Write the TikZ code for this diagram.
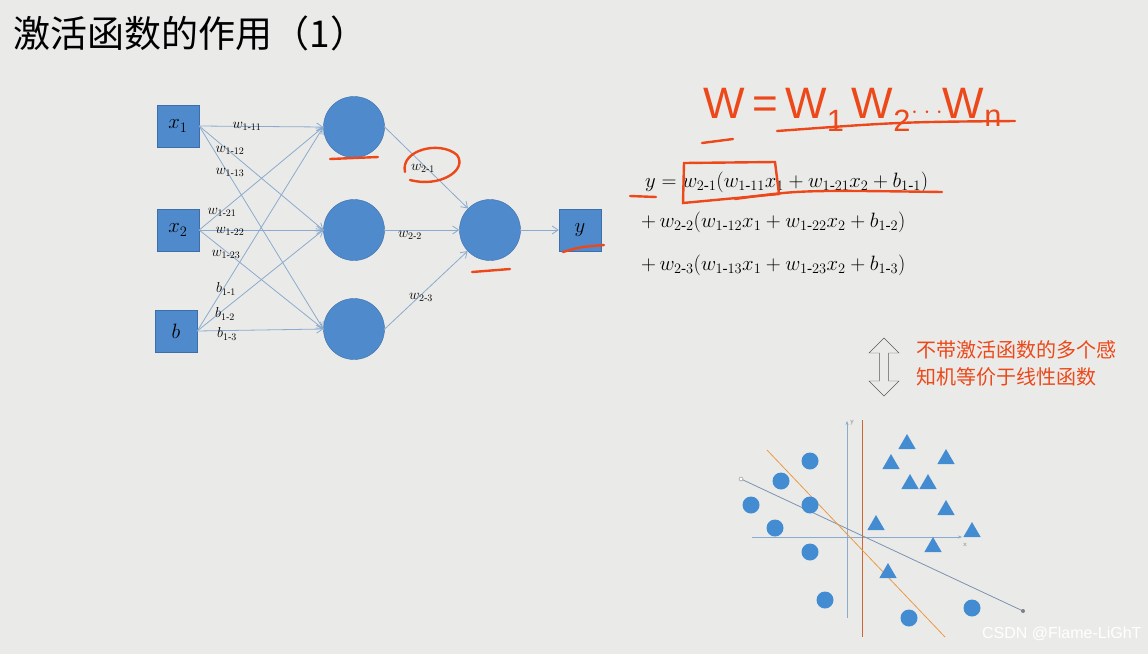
\documentclass[tikz,border=0pt]{standalone}
\usepackage{amsmath}
\usepackage{fontspec}
\setmainfont{Liberation Serif}
\newfontfamily\cjk{Noto Sans CJK SC}
\newfontfamily\hand{Liberation Sans}
\usetikzlibrary{arrows.meta,shapes.arrows,shapes.geometric}
\definecolor{bg}{RGB}{234,235,233}
\definecolor{nblue}{RGB}{79,138,204}
\definecolor{nedge}{RGB}{60,110,170}
\definecolor{lnk}{RGB}{140,170,205}
\definecolor{ored}{RGB}{236,72,26}
\definecolor{dotblue}{RGB}{68,140,210}
\definecolor{gline}{RGB}{125,145,175}
\tikzset{
 inbox/.style={draw=nedge,fill=nblue,minimum size=42pt,inner sep=0pt,font=\fontsize{22}{22}\selectfont},
 neuron/.style={circle,draw=nedge,fill=nblue,minimum size=61pt,inner sep=0pt},
 link/.style={draw=lnk,line width=0.8pt,-{Straight Barb[length=6pt,width=8pt]}},
 wl/.style={font=\fontsize{14}{14}\selectfont,inner sep=0pt},
 eq/.style={font=\fontsize{21.5}{21.5}\selectfont,anchor=west,inner sep=0pt},
 inkmark/.style={draw=ored,line width=2.4pt,line cap=round},
 pt/.style={circle,fill=dotblue,minimum size=17pt,inner sep=0pt},
 tri/.style={regular polygon,regular polygon sides=3,fill=dotblue,minimum size=20pt,inner sep=0pt},
}
\begin{document}
\begin{tikzpicture}[x=1pt,y=-1pt]
\fill[bg] (0,0) rectangle (1148,654);
\useasboundingbox (0,0) rectangle (1148,654);
\node[anchor=west,font=\cjk\fontsize{37}{37}\selectfont] (title) at (10,33) {激活函数的作用（1）};
% network
\node[inbox] (x1) at (178,126) {$x_1$};
\node[inbox] (x2) at (178,230) {$x_2$};
\node[inbox] (b) at (176,331) {$b$};
\node[neuron] (h1) at (354,127) {};
\node[neuron] (h2) at (354,230) {};
\node[neuron] (h3) at (354,329) {};
\node[neuron] (o) at (490,230) {};
\node[inbox] (y) at (580,230) {$y$};
\foreach \s in {x1,x2,b}{\foreach \t in {h1,h2,h3}{\draw[link] (\s.east) -- (\t.west);}}
\foreach \t in {h1,h2,h3}{\draw[link] (\t.east) -- (o);}
\draw[link] (o.east) -- (y.west);
\node[wl] (l1) at (247,126) {$w_{1\text{-}11}$};
\node[wl] (l2) at (230,150) {$w_{1\text{-}12}$};
\node[wl] (l3) at (230,172) {$w_{1\text{-}13}$};
\node[wl] (l4) at (222,212) {$w_{1\text{-}21}$};
\node[wl] (l5) at (230,231) {$w_{1\text{-}22}$};
\node[wl] (l6) at (226,254) {$w_{1\text{-}23}$};
\node[wl] (l7) at (226,289) {$b_{1\text{-}1}$};
\node[wl] (l8) at (225,314) {$b_{1\text{-}2}$};
\node[wl] (l9) at (227,334) {$b_{1\text{-}3}$};
\node[wl] (m1) at (423,168) {$w_{2\text{-}1}$};
\node[wl] (m2) at (410,235) {$w_{2\text{-}2}$};
\node[wl] (m3) at (421,297) {$w_{2\text{-}3}$};
% marks on network
\draw[inkmark] (330,159) -- (378,157);
\draw[inkmark] (472,272) -- (510,269);
\draw[inkmark] (563,252) .. controls (580,247) .. (604,245);
\draw[inkmark] (405,172) .. controls (400,150) and (440,140) .. (457,155) .. controls (468,170) and (440,188) .. (410,180);
% equations
\node[eq] (e1) at (645,182) {$y=w_{2\text{-}1}(w_{1\text{-}11}x_1+w_{1\text{-}21}x_2+b_{1\text{-}1})$};
\node[eq] (e2) at (641,222) {$+\,w_{2\text{-}2}(w_{1\text{-}12}x_1+w_{1\text{-}22}x_2+b_{1\text{-}2})$};
\node[eq] (e3) at (641,265) {$+\,w_{2\text{-}3}(w_{1\text{-}13}x_1+w_{1\text{-}23}x_2+b_{1\text{-}3})$};
\draw[inkmark] (630,196) -- (656,197);
\draw[inkmark] (684,163) -- (775,162) -- (779,194) -- (683,203) -- cycle;
\draw[inkmark] (735,199) .. controls (800,190) .. (942,192);
% handwritten W
\node[anchor=west,text=ored,font=\hand\fontsize{44}{44}\selectfont] (hw) at (700,110) {W\,=\,W\textsubscript{1}\,W\textsubscript{2}$\cdot\cdot\cdot$W\textsubscript{n}};
\draw[inkmark] (702,143) -- (733,139);
\draw[inkmark] (777,131) .. controls (900,122) .. (1015,121);
% double arrow
\node[double arrow,draw=gray!70!black,fill=bg,minimum height=58pt,minimum width=30pt,double arrow head extend=5pt,shape border rotate=90,inner sep=2pt] (da) at (884,367) {};
\node[anchor=west,text=ored,font=\cjk\fontsize{20}{27}\selectfont,align=left] (note) at (913,363) {不带激活函数的多个感\\知机等价于线性函数};
% scatter
\coordinate (xa) at (752,537); \coordinate (xb) at (962,537);
\coordinate (ya) at (847,618); \coordinate (yb) at (847,421);
\draw[lnk,-{Stealth[length=4pt]}] (xa) -- (xb);
\draw[lnk,-{Stealth[length=4pt]}] (ya) -- (yb);
\node[font=\sffamily\fontsize{7}{7}\selectfont,text=gray] (xl) at (965,545) {x};
\node[font=\sffamily\fontsize{7}{7}\selectfont,text=gray] (yl) at (852,423) {y};
\coordinate (r1) at (862,420); \coordinate (r2) at (862,637);
\draw[draw=brown!80!red,line width=0.9pt] (r1) -- (r2);
\coordinate (g1) at (741,479); \coordinate (g2) at (1023,611);
\draw[draw=gline,line width=0.8pt] (g1) -- (g2);
\fill[white,draw=gray] (g1) circle (2pt); \fill[gray] (g2) circle (2pt);
\coordinate (o1) at (767,450); \coordinate (o2) at (945,637);
\draw[draw=orange!60!brown!80,line width=0.8pt] (o1) -- (o2);
\foreach \p in {(810,461),(781,481),(751,505),(810,505),(775,528),(810,552),(825,600),(909,618),(972,608)}{\node[pt] at \p {};}
\foreach \p in {(907,444),(891,464),(946,459),(910,484),(928,484),(946,510),(876,525),(972,532),(933,547),(888,573)}{\node[tri] at \p {};}
\node[anchor=east,font=\hand\fontsize{16}{16}\selectfont,text=white] (wm) at (1145,634) {CSDN @Flame-LiGhT};
\end{tikzpicture}
\end{document}
